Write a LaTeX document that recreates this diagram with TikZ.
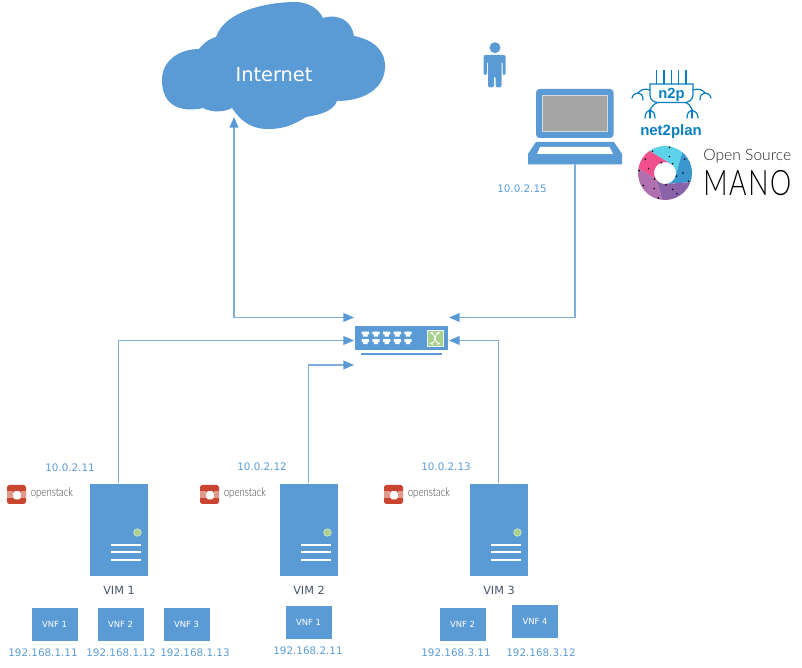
\documentclass[tikz,border=0pt]{standalone}
\usepackage{fontspec}
\setmainfont{DejaVu Sans}
\newfontfamily\logofont{Liberation Sans}
\newfontfamily\osfont{Lato Light}
\usetikzlibrary{arrows.meta}
\definecolor{iconblue}{HTML}{5B9BD5}
\definecolor{linkblue}{HTML}{7FAEDB}
\definecolor{darkslate}{HTML}{44546A}
\definecolor{planblue}{HTML}{0A80C0}
\definecolor{stackred}{HTML}{C9452F}
\definecolor{ledgreen}{HTML}{A9D18E}
\definecolor{osmcyan}{HTML}{5CD3E8}
\definecolor{osmblue}{HTML}{3A96CC}
\definecolor{osmviolet}{HTML}{8A63A8}
\definecolor{osmmauve}{HTML}{B070B0}
\definecolor{osmpink}{HTML}{F2508C}
\begin{document}
\begin{tikzpicture}[x=0.02cm, y=-0.02cm]
\tikzstyle{server}  = [rectangle, fill=iconblue, draw=white, line width=0.2pt, minimum width=1.18cm, minimum height=1.86cm, inner sep=0pt]
\tikzstyle{vnf}     = [rectangle, fill=iconblue, draw=white, line width=0.2pt, minimum width=0.94cm, minimum height=0.68cm, inner sep=0pt, text=white, font=\fontsize{4.8}{6}\selectfont]
\tikzstyle{addr}    = [text=iconblue, inner sep=0pt, font=\fontsize{5.9}{7}\selectfont]
\tikzstyle{vimname} = [text=darkslate, inner sep=0pt, font=\fontsize{6.4}{8}\selectfont]
\tikzstyle{link}    = [linkblue, line width=0.65pt, -{Triangle[length=6pt, width=5pt, color=iconblue]}]
\tikzstyle{linkboth}= [linkblue, line width=0.65pt, {Triangle[length=6pt, width=5pt, color=iconblue]}-{Triangle[length=6pt, width=5pt, color=iconblue]}]
\tikzstyle{planline}= [planblue, line width=0.7pt, line cap=round]
\useasboundingbox (0,0) rectangle (802,668);
% cloud
\fill[iconblue] (232,108) .. controls (225,112) and (212,113) .. (203,108)
  .. controls (195,110) and (162,115) .. (162,80) .. controls (162,60) and (180,49) .. (199,49)
  .. controls (205,41) and (212,38) .. (216,37) .. controls (225,10) and (270,2) .. (295,2)
  .. controls (308,2) and (318,8) .. (323,18) .. controls (340,13) and (352,22) .. (354,36)
  .. controls (375,40) and (386,52) .. (385,68) .. controls (384,88) and (365,101) .. (337,101)
  .. controls (333,112) and (318,115) .. (306,117) .. controls (292,126) and (282,129) .. (268,129)
  .. controls (250,129) and (240,120) .. (232,108) -- cycle;
\node[text=white, inner sep=0pt, font=\fontsize{11}{13}\selectfont] at (274,75) (internet) {Internet};
\coordinate (cloud_b) at (234,117);
% person
\fill[iconblue] (495,47.7) circle (5.5);
\fill[iconblue, rounded corners=1.2pt] (483.5,75) -- (483.5,55) -- (505.7,55) -- (505.7,75) -- (502.5,75) -- (502.5,61) -- (501.5,61) -- (501.5,87.5) -- (495.5,87.5) -- (495.5,76) -- (494,76) -- (494,87.5) -- (488,87.5) -- (488,61) -- (487,61) -- (487,75) -- cycle;
% laptop
\fill[iconblue, rounded corners=2pt] (536,138) -- (536,89) -- (613.5,89) -- (613.5,138) -- cycle;
\fill[black!35, draw=white!85!black, line width=0.4pt] (542.5,95.5) rectangle (607,131);
\fill[iconblue] (528,164.5) -- (528,154) -- (536,142) -- (614,142) -- (622,154) -- (622,164.5) -- cycle;
\fill[white] (537,154) -- (540,147) -- (609.5,147) -- (613,154) -- cycle;
\coordinate (laptop_b) at (575,164.5);
\node[addr] at (522,189) (laptop_ip) {10.0.2.15};
% net2plan logo
\foreach \xx in {656.7,664,671.3,678.7,686} {
  \draw[planline] (\xx,70.5) -- (\xx,84);
}
\draw[planline] (650,84) -- (693,84) -- (693,95) .. controls (693,100) and (688,102.5) .. (685,102.5) -- (658,102.5) .. controls (654,102.5) and (650,100) .. (650,95) -- cycle;
\node[text=planblue, inner sep=0pt, font=\logofont\bfseries\fontsize{8.4}{10}\selectfont] at (671.5,95) (n2p) {n2p};
\draw[planline] (650,90) .. controls (645,88) and (640,90) .. (638,93);
\draw[planline] (643,100) .. controls (643,95) and (641,93) .. (638,93);
\draw[planline] (632,98) .. controls (633,94) and (636,93) .. (638,93);
\draw[planline] (693,90) .. controls (698,88) and (703,90) .. (705,93);
\draw[planline] (700,100) .. controls (700,95) and (702,93) .. (705,93);
\draw[planline] (711,98) .. controls (710,94) and (707,93) .. (705,93);
\draw[planline] (658,102.5) .. controls (655,103) and (652,106) .. (650,110);
\draw[planline] (645,118) .. controls (645,112) and (648,111) .. (650,110) .. controls (653,111) and (655,113) .. (655,118);
\draw[planline] (650,110) -- (650,118);
\draw[planline] (685,102.5) .. controls (688,103) and (691,106) .. (692,110);
\draw[planline] (687,118) .. controls (687,112) and (690,111) .. (692,110) .. controls (695,111) and (698,113) .. (698,118);
\draw[planline] (692,110) -- (692,118);
\node[text=planblue, inner sep=0pt, font=\logofont\bfseries\fontsize{8.5}{10}\selectfont] at (671,132) (n2p_name) {net2plan};
% open source mano logo
\begin{scope}[shift={(665,173)}]
\foreach \a/\b/\c/\d/\col in {235/310/315/375/osmcyan, 310/380/375/445/osmblue, 380/455/445/510/osmviolet, 455/550/510/510/osmmauve, 190/235/150/315/osmpink} {
  \fill[\col] (\a:27) arc[start angle=\a, end angle=\b, radius=27] -- (\d:11) arc[start angle=\d, end angle=\c, radius=11] -- cycle;
}
\foreach \a/\r in {-110/11, -50/12, 15/12, 85/12, 150/12, -75/17, 0/18, 65/18, 125/19, 195/17, 240/25, -80/26, -35/24, 20/25, 60/24, 105/26, 150/25, 185/26, 215/24} {
  \fill[black] (\a:\r) circle (0.9);
}
\end{scope}
\node[text=black!85, inner sep=0pt, font=\osfont\fontsize{8.9}{11}\selectfont, anchor=west] at (703,156) (osm_top) {Open Source};
\node[text=black, inner sep=0pt, font=\osfont\fontsize{20}{24}\selectfont, anchor=west] at (703,183.5) (osm_mano) {\scalebox{0.76}[1]{\addfontfeature{LetterSpace=6}MANO}};
% switch
\node[rectangle, fill=iconblue, minimum width=1.86cm, minimum height=0.48cm, inner sep=0pt] at (401.5,338) (switch) {};
\foreach \xx in {365.3,376,386.7,397.3,408} {
  \foreach \yy in {331.7,339.2} {
    \fill[white] (\xx-3.7,\yy) -- (\xx+3.7,\yy) -- (\xx+3.7,\yy+2.7) -- (\xx+2.2,\yy+2.7) -- (\xx+2.2,\yy+5) -- (\xx-2.2,\yy+5) -- (\xx-2.2,\yy+2.7) -- (\xx-3.7,\yy+2.7) -- cycle;
  }
}
\fill[ledgreen, draw=white!80!ledgreen, line width=0.5pt] (427,330.5) rectangle (443,346);
\draw[white, line width=0.5pt, {Stealth[length=2pt]}-{Stealth[length=2pt]}] (429.5,333) .. controls (435,333) and (435,343.5) .. (440.5,343.5);
\draw[white, line width=0.5pt, {Stealth[length=2pt]}-{Stealth[length=2pt]}] (429.5,343.5) .. controls (435,343.5) and (435,333) .. (440.5,333);
\draw[iconblue, line width=1.1pt] (361,354.3) -- (441.7,354.3);
\coordinate (sw_w_0) at (354,317.5);
\coordinate (sw_w_1) at (354,340.5);
\coordinate (sw_w_2) at (354,365);
\coordinate (sw_e_0) at (449,317.5);
\coordinate (sw_e_1) at (449,340.5);
% servers
\foreach \n/\xx/\iplabel/\ipx/\ipy in {1/119/10.0.2.11/70/468, 2/309/10.0.2.12/262/467, 3/499/10.0.2.13/446/467} {
  \node[server] at (\xx-0.5,529.5) (vim_\n) {};
  \fill[ledgreen, draw=white!60!ledgreen, line width=0.3pt] (\xx+18.5,532.5) circle (3.8);
  \foreach \yy in {545,552,560} {
    \draw[white, line width=0.65pt] (\xx-8,\yy) -- (\xx+22,\yy);
  }
  \node[vimname] at (\xx,590) (vim_\n_name) {VIM \n};
  \node[addr] at (\ipx,\ipy) (vim_\n_ip) {\iplabel};
}
% openstack logos
\foreach \n/\xx in {1/0, 2/193, 3/377} {
  \begin{scope}[shift={(\xx,0)}]
  \fill[stackred, even odd rule, rounded corners=1pt] (7,485) rectangle (26,504) (13,491) rectangle (21,499.5);
  \fill[stackred!55!white] (7,491.5) rectangle (13,498);
  \fill[stackred!55!white] (21,491.5) rectangle (26,498);
  \node[text=black!75, inner sep=0pt, anchor=west, font=\osfont\fontsize{7}{8}\selectfont] at (30.5,493.5) (stack_\n) {\scalebox{0.78}[1]{openstack}};
  \end{scope}
}
% vnf boxes
\node[vnf] at (54.5,624) (vnf_1_1) {VNF 1};
\node[vnf] at (120.5,624) (vnf_1_2) {VNF 2};
\node[vnf] at (186.5,624) (vnf_1_3) {VNF 3};
\node[vnf] at (308.5,622.5) (vnf_2_1) {VNF 1};
\node[vnf] at (462.5,624) (vnf_3_1) {VNF 2};
\node[vnf] at (535,621) (vnf_3_2) {VNF 4};
\node[addr] at (43,653) (ip_1_1) {192.168.1.11};
\node[addr] at (121,653) (ip_1_2) {192.168.1.12};
\node[addr] at (195,653) (ip_1_3) {192.168.1.13};
\node[addr] at (308,651) (ip_2_1) {192.168.2.11};
\node[addr] at (456,653) (ip_3_1) {192.168.3.11};
\node[addr] at (541,653) (ip_3_2) {192.168.3.12};
% links
\draw[linkboth] (cloud_b) |- (sw_w_0);
\draw[link] (laptop_b) |- (sw_e_0);
\draw[link] (vim_1.north) |- (sw_w_1);
\draw[link] (vim_2.north) |- (sw_w_2);
\draw[link] (vim_3.north) |- (sw_e_1);
\end{tikzpicture}
\end{document}
